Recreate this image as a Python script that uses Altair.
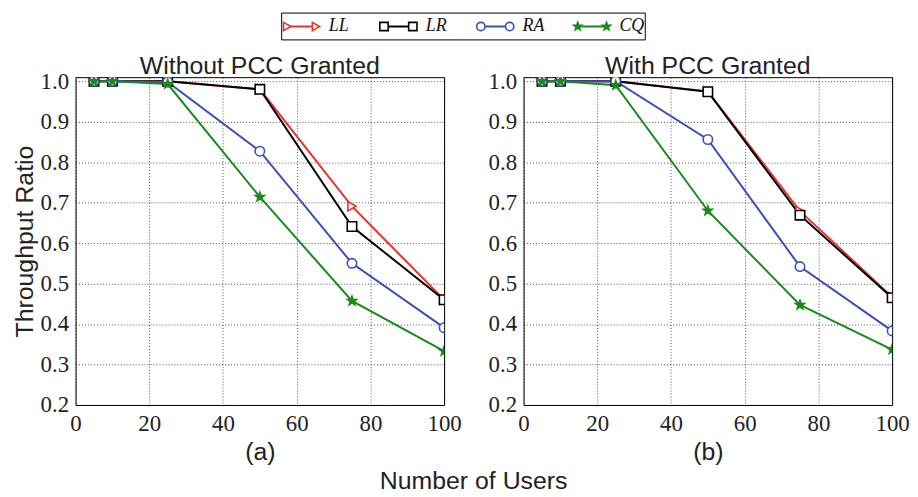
import altair as alt
import pandas as pd

users = [5, 10, 25, 50, 75, 100]
series = ["LL", "LR", "RA", "CQ"]
colors = ["#e4372d", "#000000", "#3c4fb4", "#198a1c"]
fills = ["white", "white", "white", "#198a1c"]
STAR = ("M0,-1L0.235,-0.324L0.951,-0.309L0.380,0.124L0.588,0.809L0,0.4"
        "L-0.588,0.809L-0.380,0.124L-0.951,-0.309L-0.235,-0.324Z")
shapes = ["triangle-right", "square", "circle", STAR]

# Panel (a): without PCC granted
a_LL = [1.0, 1.0, 1.0, 0.980, 0.691, 0.460]
a_LR = [1.0, 1.0, 1.0, 0.980, 0.641, 0.460]
a_RA = [1.0, 1.0, 0.998, 0.827, 0.550, 0.391]
a_CQ = [1.0, 1.0, 0.993, 0.714, 0.457, 0.333]

# Panel (b): with PCC granted
b_LL = [1.0, 1.0, 1.0, 0.975, 0.679, 0.467]
b_LR = [1.0, 1.0, 1.0, 0.974, 0.669, 0.465]
b_RA = [1.0, 1.0, 1.0, 0.856, 0.542, 0.383]
b_CQ = [1.0, 1.0, 0.990, 0.680, 0.447, 0.337]

y_ticks = [0.2, 0.3, 0.4, 0.5, 0.6, 0.7, 0.8, 0.9, 1.0]
x_ticks = [0, 20, 40, 60, 80, 100]

color_scale = alt.Scale(domain=series, range=colors)
shape_scale = alt.Scale(domain=series, range=shapes)
fill_scale = alt.Scale(domain=series, range=fills)

LABEL_FONT = "Liberation Serif"
SANS = "Liberation Sans"


def make_df(vals):
    rows = []
    for s, v in zip(series, vals):
        for u, r in zip(users, v):
            rows.append({"users": u, "ratio": r, "series": s})
    return pd.DataFrame(rows)


def panel(vals, title, xlabel, ytitle):
    df = make_df(vals)
    yaxis = alt.Axis(values=y_ticks, format=".1f", labelPadding=7, titlePadding=3,
                     labelFont=LABEL_FONT, labelFontSize=23, labelColor="#222")
    xaxis = alt.Axis(values=x_ticks, labelFlush=False, labelPadding=8, titlePadding=4,
                     labelFont=LABEL_FONT, labelFontSize=23, labelColor="#222")
    base = alt.Chart(df).encode(
        x=alt.X("users:Q", scale=alt.Scale(domain=[0, 100], nice=False),
                axis=xaxis, title=xlabel),
        y=alt.Y("ratio:Q", scale=alt.Scale(domain=[0.2, 1.01], nice=False, zero=False),
                axis=yaxis, title=ytitle),
        color=alt.Color("series:N", scale=color_scale, legend=None),
    )
    lines = base.mark_line(strokeWidth=2, clip=True)
    pts = base.mark_point(size=90, strokeWidth=1.6, opacity=1, clip=True).encode(
        shape=alt.Shape("series:N", scale=shape_scale, legend=None),
        fill=alt.Fill("series:N", scale=fill_scale, legend=None),
    )
    return alt.layer(lines, pts).properties(
        width=371, height=330,
        title=alt.TitleParams(title, fontSize=25, font=SANS,
                              fontWeight="normal", color="#222", offset=-9),
    )


panel_a = panel([a_LL, a_LR, a_RA, a_CQ], "Without PCC Granted", "(a)", "Throughput Ratio")
panel_b = panel([b_LL, b_LR, b_RA, b_CQ], "With PCC Granted", "(b)", None)

# Legend as a small chart
leg_df = pd.DataFrame({"series": series, "slot": list(range(len(series)))})
lx = alt.X("slot:Q", scale=alt.Scale(domain=[0, 366 / 97.5], nice=False, zero=False), axis=None)
leg_base = alt.Chart(leg_df).encode(
    x=lx, y=alt.value(14),
    color=alt.Color("series:N", scale=color_scale, legend=None),
)
leg_rule = leg_base.mark_rule(strokeWidth=2, xOffset=6, x2Offset=35).encode(x2="slot:Q")
leg_p1 = leg_base.mark_point(size=70, strokeWidth=1.6, opacity=1, xOffset=6).encode(
    shape=alt.Shape("series:N", scale=shape_scale, legend=None),
    fill=alt.Fill("series:N", scale=fill_scale, legend=None),
)
leg_p2 = leg_base.mark_point(size=70, strokeWidth=1.6, opacity=1, xOffset=35).encode(
    shape=alt.Shape("series:N", scale=shape_scale, legend=None),
    fill=alt.Fill("series:N", scale=fill_scale, legend=None),
)
leg_text = alt.Chart(leg_df).mark_text(
    align="left", baseline="middle", xOffset=48, fontStyle="italic",
    font=LABEL_FONT, fontSize=18, color="#111",
).encode(x=lx, y=alt.value(14), text="series:N")
legend = alt.layer(leg_rule, leg_p1, leg_p2, leg_text).properties(width=366, height=27)

# invisible spacer that pushes the legend box to the centre
spacer = alt.Chart(leg_df).mark_point(opacity=0).encode(
    x=alt.value(0), y=alt.value(0)
).properties(width=205, height=27, view=alt.ViewBackground(strokeOpacity=0))

legend_row = alt.hconcat(spacer, legend, spacing=0)
row = alt.hconcat(panel_a, panel_b, spacing=25)

chart = alt.vconcat(legend_row, row, spacing=13).properties(
    title=alt.TitleParams("Number of Users", orient="bottom", anchor="middle",
                          fontSize=25, font=SANS, fontWeight="normal",
                          color="#222", offset=4, dx=13),
    padding={"left": 3, "top": 0, "right": 0, "bottom": 0},
).configure_view(stroke="black", strokeWidth=1).configure_axis(
    grid=True, gridColor="black", gridDash=[1, 2], gridOpacity=0.85, gridWidth=0.8,
    domain=False, ticks=False,
    labelFont=LABEL_FONT, labelFontSize=23, labelColor="#222",
    titleFont=SANS, titleFontSize=25, titleFontWeight="normal", titleColor="#222",
)

chart.save("out.html", embed_options={"renderer": "svg", "actions": False})
